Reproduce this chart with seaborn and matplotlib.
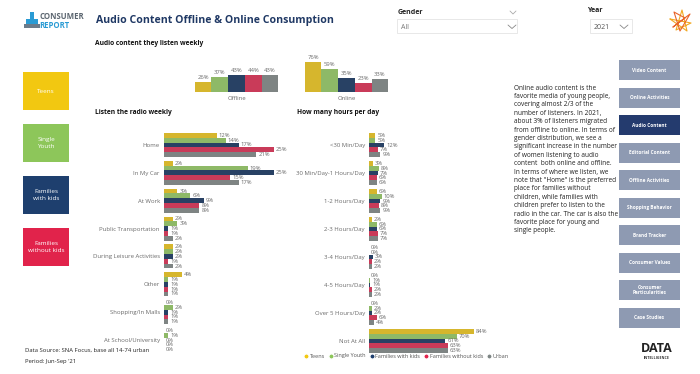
import matplotlib
matplotlib.use("Agg")
import matplotlib.pyplot as plt
import seaborn as sns
import pandas as pd
from matplotlib.patches import Rectangle
from matplotlib.lines import Line2D

sns.set_theme(style="white")
plt.rcParams['font.family'] = ['Open Sans', 'DejaVu Sans']

# ---------------- data ----------------
segments = ["Teens", "Single Youth", "Families with kids", "Families without kids", "Urban"]
seg_colors = ["#F2C811", "#8DC65A", "#1E3F6E", "#E1234B", "#7D8584"]

weekly_types = ["Offline", "Online"]
weekly_teens = [26, 76]
weekly_single = [37, 59]
weekly_fam_kids = [43, 35]
weekly_fam_nokids = [44, 23]
weekly_urban = [43, 33]

places = ["Home", "In My Car", "At Work", "Public Transportation",
          "During Leisure Activities", "Other", "Shopping/In Malls", "At School/University"]
place_teens = [12, 2, 3, 2, 2, 4, 0, 0]
place_single = [14, 19, 6, 3, 2, 1, 2, 1]
place_fam_kids = [17, 25, 9, 1, 2, 1, 1, 0]
place_fam_nokids = [25, 15, 8, 1, 1, 1, 1, 0]
place_urban = [21, 17, 8, 2, 2, 1, 1, 0]

hours = ["<30 Min/Day", "30 Min/Day-1 Hours/Day", "1-2 Hours/Day", "2-3 Hours/Day",
         "3-4 Hours/Day", "4-5 Hours/Day", "Over 5 Hours/Day", "Not At All"]
hours_teens = [5, 3, 6, 2, 0, 0, 0, 84]
hours_single = [5, 8, 10, 6, 0, 1, 2, 70]
hours_fam_kids = [12, 7, 9, 6, 3, 1, 2, 61]
hours_fam_nokids = [7, 6, 8, 7, 2, 2, 6, 63]
hours_urban = [9, 6, 9, 7, 2, 2, 4, 63]

nav_items = ["Video Content", "Online Activities", "Audio Content", "Editorial Content",
             "Offline Activities", "Shopping Behavior", "Brand Tracker", "Consumer Values",
             "Consumer\nParticularities", "Case Studies"]
nav_active = "Audio Content"

summary_lines = ["Online audio content is the", "favorite media of young people,", "covering almost 2/3 of the",
                 "number of listeners. In 2021,", "about 3% of listeners migrated", "from offline to online. In terms of",
                 "gender distribution, we see a", "significant increase in the number", "of women listening to audio",
                 "content  both online and offline.", "In terms of where we listen, we", "note that \"Home\" is the preferred",
                 "place for families without", "children, while families with", "children prefer to listen to the",
                 "radio in the car. The car is also the", "favorite place for young and", "single people."]


def long_df(cats, cols, catname):
    rows = []
    for seg, vals in zip(segments, cols):
        for c, v in zip(cats, vals):
            rows.append({catname: c, "segment": seg, "value": v})
    return pd.DataFrame(rows)


df_week = long_df(weekly_types, [weekly_teens, weekly_single, weekly_fam_kids, weekly_fam_nokids, weekly_urban], "type")
df_place = long_df(places, [place_teens, place_single, place_fam_kids, place_fam_nokids, place_urban], "place")
df_hours = long_df(hours, [hours_teens, hours_single, hours_fam_kids, hours_fam_nokids, hours_urban], "hours")

W, H = 700, 374
fig = plt.figure(figsize=(7, 3.74), dpi=100)
fig.patch.set_facecolor("white")


def rect(x0, y0, x1, y1):
    return [x0 / W, 1 - y1 / H, (x1 - x0) / W, (y1 - y0) / H]


# overlay axes in pixel coordinates
ov = fig.add_axes([0, 0, 1, 1])
ov.set_xlim(0, W)
ov.set_ylim(H, 0)
ov.axis("off")

# logo
ov.add_patch(Rectangle((26, 19), 12, 6, color="#2A9BD4", lw=0))
ov.add_patch(Rectangle((30, 12), 4, 8, color="#2A9BD4", lw=0))
ov.add_patch(Rectangle((24, 24), 16, 4, color="#6B7B8A", lw=0))
ov.text(39, 16, "CONSUMER", fontsize=5.6, fontweight="bold", color="#5C6670", va="center", ha="left")
ov.text(39, 25, "REPORT", fontsize=5.6, fontweight="bold", color="#2A9BD4", va="center", ha="left")

# title
ov.text(96, 20, "Audio Content Offline & Online Consumption", fontsize=7.6, fontweight="bold",
        color="#1F3864", va="center", ha="left")

# slicers
ov.text(398, 12, "Gender", fontsize=5, fontweight="bold", color="#222", va="center")
ov.plot([510, 513, 516], [11, 14, 11], color="#aaa", lw=0.6)
ov.add_patch(Rectangle((397, 19), 120, 14, fill=False, ec="#e4e4e4", lw=0.6))
ov.text(401, 27, "All", fontsize=5, color="#777", va="center")
ov.plot([508, 512, 516], [25, 28.5, 25], color="#888", lw=0.6)
ov.text(587, 10, "Year", fontsize=5, fontweight="bold", color="#222", va="center")
ov.add_patch(Rectangle((590, 19), 42, 14, fill=False, ec="#e4e4e4", lw=0.6))
ov.text(594, 27, "2021", fontsize=5, color="#555", va="center")
ov.plot([620, 624, 628], [25, 28.5, 25], color="#888", lw=0.6)

# star logo
sx, sy = 681, 21
ov.plot([sx - 11, sx + 10, sx - 5, sx + 1, sx + 6, sx - 11],
        [sy - 2, sy + 2, sy + 9, sy - 11, sy + 10, sy - 2], color="#F2A922", lw=0.8)
ov.plot([sx - 8, sx + 9, sx - 1, sx - 7, sx + 4, sx - 8],
        [sy + 6, sy - 7, sy + 10, sy - 9, sy - 3, sy + 6], color="#E8642B", lw=0.8)

# segment boxes
box_y = [72, 124, 176, 228]
box_labels = ["Teens", "Single\nYouth", "Families\nwith kids", "Families\nwithout kids"]
for y, lab, col in zip(box_y, box_labels, seg_colors[:4]):
    ov.add_patch(Rectangle((23, y), 46, 38, color=col, lw=0))
    ov.text(46, y + 19, lab, fontsize=4.6, color="white", ha="center", va="center", linespacing=1.3)

# section titles
ov.text(95, 43, "Audio content they listen weekly", fontsize=4.8, fontweight="bold", color="#111", va="center")
ov.text(95, 112, "Listen the radio weekly", fontsize=4.8, fontweight="bold", color="#111", va="center")
ov.text(297, 112, "How many hours per day", fontsize=4.8, fontweight="bold", color="#111", va="center")

# summary text, one line at a time for exact spacing
for i, line in enumerate(summary_lines):
    ov.text(514, 88 + i * 8.4, line, fontsize=4.7, color="#222", va="center", ha="left")

# navigation buttons
for i, item in enumerate(nav_items):
    y = 60 + i * 27.5
    col = "#243B6E" if item == nav_active else "#8E9AB2"
    ov.add_patch(Rectangle((619, y), 61, 20, color=col, lw=0))
    ov.text(649.5, y + 10, item, fontsize=3.4, fontweight="bold", color="white",
            ha="center", va="center", linespacing=1.2)

# footer
ov.text(25, 350, "Data Source: SNA Focus, base all 14-74 urban", fontsize=4.2, color="#222", va="center")
ov.text(25, 362, "Period: Jun-Sep '21", fontsize=4.2, color="#222", va="center")
ov.text(657, 349, "DATA", fontsize=9, fontweight="bold", color="#222", ha="center", va="center")
ov.text(657, 358, "INTELLIGENCE", fontsize=2.6, fontweight="bold", color="#333", ha="center", va="center")

label_color = "#6A6A6A"

# ---------------- chart 1: weekly ----------------
ax1 = fig.add_axes(rect(181.5, 52.5, 401.5, 92))
sns.barplot(data=df_week, x="type", y="value", hue="segment", hue_order=segments,
            palette=seg_colors, width=0.76, ax=ax1, legend=False, linewidth=0)
ax1.set_ylim(0, 100)
ax1.set_xlim(-0.5, 1.5)
for cont in ax1.containers:
    ax1.bar_label(cont, fmt="%d%%", fontsize=4.2, color=label_color, padding=1.5)
ax1.set_xlabel("")
ax1.set_ylabel("")
ax1.set_yticks([])
ax1.tick_params(axis="x", labelsize=4.3, labelcolor=label_color, length=0, pad=3)
for s in ax1.spines.values():
    s.set_visible(False)
ax1.patch.set_alpha(0)

# ---------------- chart 2: places ----------------
ax2 = fig.add_axes(rect(164, 131, 296, 354))
sns.barplot(data=df_place, y="place", x="value", hue="segment", hue_order=segments, orient="h",
            palette=seg_colors, width=0.86, ax=ax2, legend=False, linewidth=0)
ax2.set_xlim(0, 30)
ax2.set_ylim(7.5, -0.5)
for cont in ax2.containers:
    ax2.bar_label(cont, fmt="%d%%", fontsize=4.2, color=label_color, padding=1.5)
ax2.set_xlabel("")
ax2.set_ylabel("")
ax2.set_xticks([])
ax2.tick_params(axis="y", labelsize=4.3, labelcolor=label_color, length=0, pad=3)
for s in ax2.spines.values():
    s.set_visible(False)
ax2.patch.set_alpha(0)

# ---------------- chart 3: hours ----------------
ax3 = fig.add_axes(rect(369, 131, 494, 355))
sns.barplot(data=df_hours, y="hours", x="value", hue="segment", hue_order=segments, orient="h",
            palette=seg_colors, width=0.86, ax=ax3, legend=False, linewidth=0)
ax3.set_xlim(0, 100)
ax3.set_ylim(7.5, -0.5)
for cont in ax3.containers:
    ax3.bar_label(cont, fmt="%d%%", fontsize=4.2, color=label_color, padding=1.5)
ax3.set_xlabel("")
ax3.set_ylabel("")
ax3.set_xticks([])
ax3.tick_params(axis="y", labelsize=4.3, labelcolor=label_color, length=0, pad=3)
for s in ax3.spines.values():
    s.set_visible(False)
ax3.patch.set_alpha(0)

# legend
handles = [Line2D([0], [0], marker="o", color="w", markerfacecolor=c, markersize=3.8, lw=0)
           for c in seg_colors]
fig.legend(handles, segments, loc="center", bbox_to_anchor=(406 / W, 1 - 356 / H), ncol=5,
           frameon=False, fontsize=4.0, handletextpad=0.1, columnspacing=0.6, handlelength=1.0,
           labelcolor="#555")

fig.savefig("out.png", dpi=100, facecolor="white")
